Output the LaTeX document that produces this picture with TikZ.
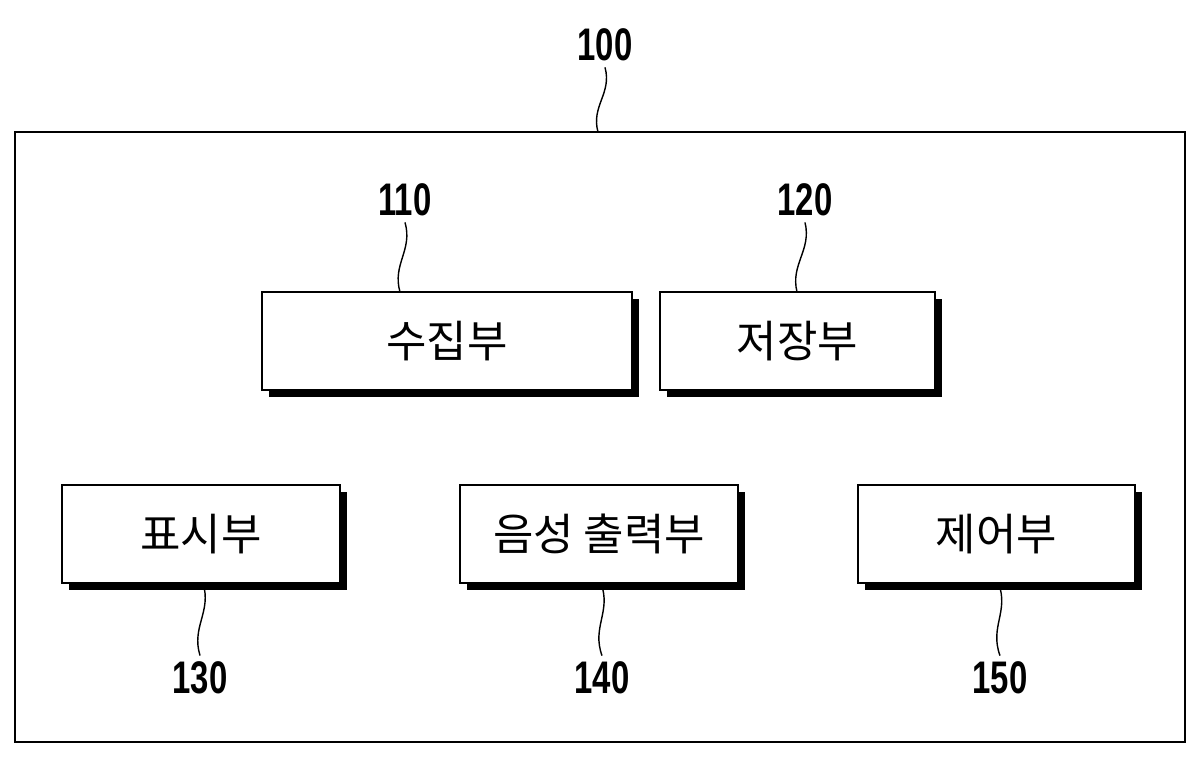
\documentclass[tikz,border=0pt]{standalone}
\usepackage{fontspec}
\usetikzlibrary{calc}
\newfontfamily\kr{Noto Sans CJK KR}
\newfontfamily\num{Liberation Sans}
\begin{document}
\begin{tikzpicture}[x=0.02cm,y=-0.02cm,
  lbl/.style={font=\num\fontsize{26}{26}\selectfont\bfseries,xscale=0.72},
  sq/.style={line width=0.8pt}]
\useasboundingbox (0,0) rectangle (1200,758);
\draw[line width=1.4pt] (15,132) rectangle (1185,742);
\newcommand\mybox[6]{% name x1 y1 x2 y2 text
  \fill (#2+7,#3+7) rectangle (#4+7,#5+7);
  \draw[line width=1.4pt,fill=white] (#2,#3) rectangle (#4,#5);
  \node[font=\kr\fontsize{25}{25}\selectfont] (#1) at ({(#2+#4)/2},{(#3+#5)/2}) {#6};
  \coordinate (#1b) at ({(#2+#4)/2+2},#5);}
\mybox{b110}{262}{292}{632}{390}{수집부}
\mybox{b120}{660}{292}{935}{390}{저장부}
\mybox{b130}{62}{485}{340}{583}{표시부}
\mybox{b140}{460}{485}{738}{583}{음성 출력부}
\mybox{b150}{858}{485}{1135}{583}{제어부}
\coordinate (b100t) at (598,132);
\coordinate (b110t) at (400,292);
\coordinate (b120t) at (797,292);
\node[lbl] (l100) at (605,45) {100};
\node[lbl] (l110) at (405,200) {110};
\node[lbl] (l120) at (805,200) {120};
\node[lbl] (l130) at (200,678) {130};
\node[lbl] (l140) at (602,678) {140};
\node[lbl] (l150) at (1000,678) {150};
\newcommand\squig[2]{\draw[sq] (#1) .. controls ($(#1)!0.4!(#2)+(10,0)$) and ($(#1)!0.6!(#2)+(-10,0)$) .. (#2);}
\squig{l100.south}{b100t}
\squig{l110.south}{b110t}
\squig{l120.south}{b120t}
\squig{b130b}{l130.north}
\squig{b140b}{l140.north}
\squig{b150b}{l150.north}
\end{tikzpicture}
\end{document}
